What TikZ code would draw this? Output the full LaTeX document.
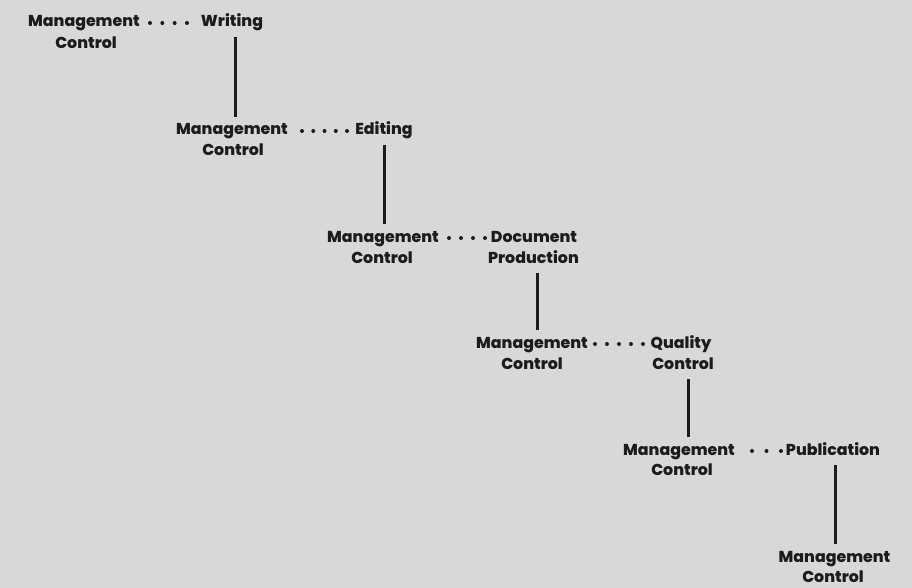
\documentclass[tikz,border=0pt]{standalone}
\usepackage{fontspec}
\setmainfont{Poppins}[BoldFont={Poppins ExtraBold}]
\definecolor{bg}{RGB}{216,216,216}
\definecolor{ink}{RGB}{28,28,28}
\begin{document}
\begin{tikzpicture}[x=1pt,y=-1pt,
  lbl/.style={anchor=base, inner sep=0pt, text height=11.5pt, text depth=3.5pt,
    font=\bfseries\fontsize{15.8}{19}\selectfont, text=ink},
  vline/.style={draw=ink, line width=3pt, shorten <=6pt, shorten >=6pt},
  dotlink/.style={draw=ink, line width=4pt, line cap=round, dash pattern=on 0pt off #1}]
\fill[bg] (0,0) rectangle (912,588);
\useasboundingbox (0,0) rectangle (912,588);
% row 1
\node[lbl] (m1) at (84,27) {Management};
\node[lbl] (c1) at (86,49) {Control};
\node[lbl] (w1) at (232,27) {Writing};
% row 2
\node[lbl] (m2) at (232,135) {Management};
\node[lbl] (c2) at (233,156) {Control};
\node[lbl] (e2) at (384,135) {Editing};
% row 3
\node[lbl] (m3) at (383,242) {Management};
\node[lbl] (c3) at (382,263) {Control};
\node[lbl] (d3) at (534,242) {Document};
\node[lbl] (p3) at (533.5,263) {Production};
% row 4
\node[lbl] (m4) at (532,348) {Management};
\node[lbl] (c4) at (532,369) {Control};
\node[lbl] (q4) at (681,348) {Quality};
\node[lbl] (k4) at (683,369) {Control};
% row 5
\node[lbl] (m5) at (679,455) {Management};
\node[lbl] (c5) at (682,475) {Control};
\node[lbl] (u5) at (833,455) {Publication};
% row 6
\node[lbl] (m6) at (834.5,562) {Management};
\node[lbl] (c6) at (833,582) {Control};
% vertical connectors
\draw[vline] ([xshift=3pt]w1.south) -- ([xshift=3pt]w1.south |- m2.north);
\draw[vline] (e2.south) -- (e2.south |- m3.north);
\draw[vline] ([xshift=3.5pt]p3.south) -- ([xshift=3.5pt]p3.south |- m4.north);
\draw[vline] ([xshift=5pt]k4.south) -- ([xshift=5pt]k4.south |- m5.north);
\draw[vline] ([xshift=2pt]u5.south) -- ([xshift=2pt]u5.south |- m6.north);
% dotted connectors
\draw[dotlink=12.33pt] ([xshift=66pt]m1.center) -- ([xshift=-39pt]w1.center);
\draw[dotlink=11.25pt] ([xshift=70pt]m2.center) -- ([xshift=-32pt]e2.center);
\draw[dotlink=12pt] ([xshift=66pt]m3.center) -- ([xshift=-44pt]d3.center);
\draw[dotlink=12pt] ([xshift=63pt]m4.center) -- ([xshift=-33pt]q4.center);
\draw[dotlink=14.5pt] ([xshift=73pt]m5.center) -- ([xshift=-46pt]u5.center);
\end{tikzpicture}
\end{document}
